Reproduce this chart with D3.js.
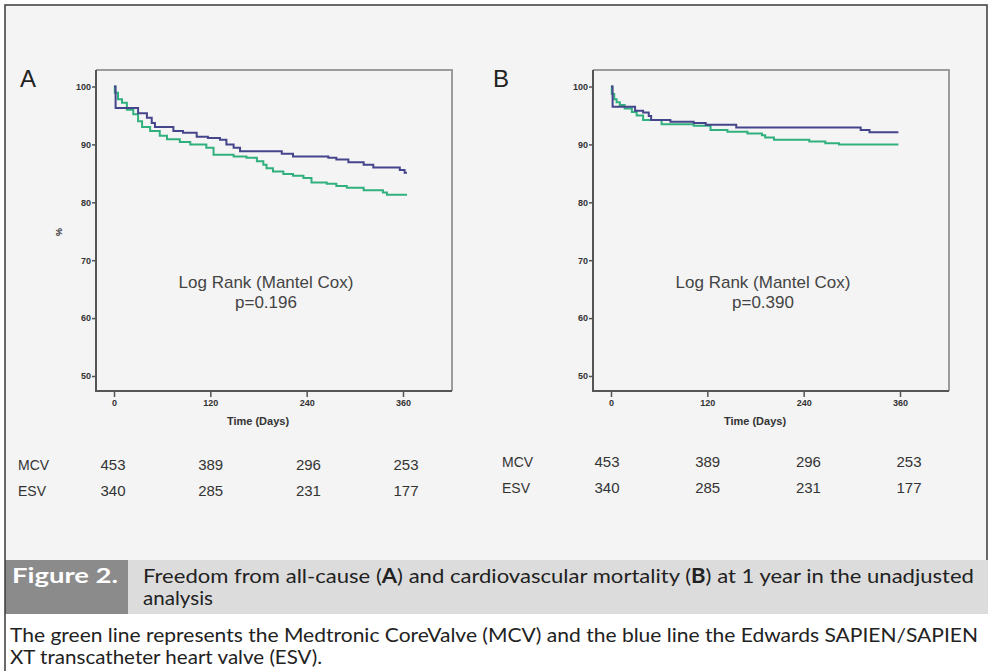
<!DOCTYPE html>
<html>
<head>
<meta charset="utf-8">
<script src="https://cdn.jsdelivr.net/npm/d3@7"></script>
<style>
  body { margin: 0; background: #fff; }
  svg { display: block; }
</style>
</head>
<body>
<div id="chart"></div>
<script>
// ---- data ----
// panel A: all-cause mortality (day the step starts, survival %)
var aMcvDays = [0, 1, 5, 10, 16, 24, 30, 35, 45, 57, 66, 82, 95, 115, 124, 149, 165, 178, 186, 190, 198, 211, 223, 236, 246, 265, 277, 290, 311, 335, 340, 365];
var aMcvSurv = [100, 98.9, 97.8, 97.2, 96.0, 95.2, 94.0, 93.0, 92.3, 91.5, 90.9, 90.4, 90.0, 89.4, 88.2, 87.9, 87.7, 87.1, 86.5, 85.9, 85.3, 84.9, 84.6, 84.2, 83.4, 83.2, 82.8, 82.5, 82.1, 81.7, 81.3, 81.3];
var aEsvDays = [0, 2, 30, 41, 47, 51, 74, 86, 103, 117, 132, 140, 149, 157, 209, 223, 267, 277, 292, 311, 323, 356, 362, 365];
var aEsvSurv = [100, 96.3, 95.4, 94.6, 93.7, 93.0, 92.3, 92.0, 91.3, 91.1, 90.8, 90.0, 89.4, 88.8, 88.4, 87.9, 87.7, 87.4, 86.9, 86.5, 86.0, 85.6, 85.1, 85.1];
// panel B: cardiovascular mortality
var bMcvDays = [0, 1, 4, 7, 11, 17, 26, 32, 40, 63, 103, 124, 145, 170, 188, 192, 203, 247, 267, 284, 358];
var bMcvSurv = [100, 98.7, 97.8, 97.3, 96.8, 96.2, 95.6, 95.0, 94.2, 93.5, 93.2, 92.5, 92.2, 91.9, 91.6, 91.2, 90.8, 90.5, 90.2, 90.0, 90.0];
var bEsvDays = [0, 2, 30, 40, 47, 50, 74, 103, 118, 156, 311, 322, 358];
var bEsvSurv = [100, 96.5, 95.8, 95.5, 94.9, 94.2, 93.9, 93.7, 93.4, 92.9, 92.5, 92.1, 92.1];

var xTicks = [0, 120, 240, 360];
var yTicks = [50, 60, 70, 80, 90, 100];

// numbers at risk
var riskGroups = ["MCV", "ESV"];
var riskMcv = [453, 389, 296, 253];
var riskEsv = [340, 285, 231, 177];

var pLabels = ["p=0.196", "p=0.390"];

// ---- layout ----
var W = 990, H = 671;
var svg = d3.select("#chart").append("svg").attr("width", W).attr("height", H);

svg.append("rect").attr("x", 5).attr("y", 5).attr("width", 982).attr("height", 560).attr("fill", "#f4f4f4");

var panels = [
  {name: "A", ox: 0, mcv: [aMcvDays, aMcvSurv], esv: [aEsvDays, aEsvSurv], p: pLabels[0],
   tableX: [113, 210.7, 308.4, 406], tableY: [470, 496], labelX: 18},
  {name: "B", ox: 497, mcv: [bMcvDays, bMcvSurv], esv: [bEsvDays, bEsvSurv], p: pLabels[1],
   tableX: [607, 707.7, 808.4, 909], tableY: [467, 493], labelX: 502}
];

var blue = "#45458c", green = "#30b07c";
var sans = "Liberation Sans, Arial, sans-serif";

panels.forEach(function(pn) {
  var g = svg.append("g").attr("transform", "translate(" + pn.ox + ",0)");
  var left = 96, right = 452, top = 70, bottom = 391;

  var x = d3.scaleLinear().domain([0, 360]).range([114, 403]);
  var y = d3.scaleLinear().domain([50, 100]).range([376, 86.5]);

  // box: light top/right, darker left/bottom
  g.append("path").attr("d", "M" + left + "," + top + "H" + right + "V" + bottom)
    .attr("fill", "none").attr("stroke", "#9c9c9c").attr("stroke-width", 2);
  g.append("path").attr("d", "M" + left + "," + top + "V" + bottom + "H" + right)
    .attr("fill", "none").attr("stroke", "#555").attr("stroke-width", 2);

  var yAxis = g.append("g").attr("transform", "translate(" + left + ",0)")
    .call(d3.axisLeft(y).tickValues(yTicks).tickSize(4).tickPadding(1));
  var xAxis = g.append("g").attr("transform", "translate(0," + bottom + ")")
    .call(d3.axisBottom(x).tickValues(xTicks).tickSize(6).tickPadding(3));
  [yAxis, xAxis].forEach(function(ax) {
    ax.select(".domain").remove();
    ax.selectAll("line").attr("stroke", "#555").attr("stroke-width", 1.5);
    ax.selectAll("text").attr("fill", "#333").style("font-family", sans)
      .style("font-size", "9px").style("font-weight", "bold");
  });

  g.append("text").attr("x", 258).attr("y", 425).attr("text-anchor", "middle")
    .style("font-family", sans).style("font-size", "11px")
    .style("font-weight", "bold").attr("fill", "#333").text("Time (Days)");
  if (pn.name === "A") {
    g.append("text").attr("transform", "translate(62,232) rotate(-90)").attr("text-anchor", "middle")
      .style("font-family", sans).style("font-size", "9px")
      .style("font-weight", "bold").attr("fill", "#333").text("%");
  }

  // panel letter
  g.append("text").attr("x", pn.name === "A" ? 20 : -4).attr("y", 87)
    .style("font-family", sans).style("font-size", "24px")
    .attr("fill", "#222").text(pn.name);

  var line = d3.line()
    .x(function(d) { return x(d[0]); })
    .y(function(d) { return y(d[1]); })
    .curve(d3.curveStepAfter);

  [[pn.mcv, green], [pn.esv, blue]].forEach(function(s) {
    var pts = s[0][0].map(function(dd, i) { return [dd, s[0][1][i]]; });
    g.append("path").datum(pts).attr("d", line).attr("fill", "none")
      .attr("stroke", s[1]).attr("stroke-width", 2);
  });

  // log rank
  g.append("text").attr("text-anchor", "middle").attr("fill", "#444")
    .style("font-family", sans).style("font-size", "17px")
    .attr("x", 266).attr("y", 288).text("Log Rank (Mantel Cox)");
  g.append("text").attr("text-anchor", "middle").attr("fill", "#444")
    .style("font-family", sans).style("font-size", "17px")
    .attr("x", 266).attr("y", 308).text(pn.p);

  // at risk table
  var tbl = svg.append("g");
  [riskMcv, riskEsv].forEach(function(row, r) {
    tbl.append("text").attr("x", pn.labelX).attr("y", pn.tableY[r]).attr("fill", "#333")
      .style("font-family", sans).style("font-size", "14px")
      .text(riskGroups[r]);
    row.forEach(function(v, i) {
      tbl.append("text").attr("x", pn.tableX[i]).attr("y", pn.tableY[r]).attr("text-anchor", "middle")
        .attr("fill", "#333").style("font-family", sans)
        .style("font-size", "15px").text(v);
    });
  });
});

// caption
svg.append("rect").attr("x", 5).attr("y", 560).attr("width", 983).attr("height", 54).attr("fill", "#dcdcdc");
svg.append("rect").attr("x", 5).attr("y", 560).attr("width", 123).attr("height", 54).attr("fill", "#8b8b8b");
svg.append("rect").attr("x", 5).attr("y", 614).attr("width", 983).attr("height", 57).attr("fill", "#fff");

var capFont = "Lato, Open Sans, sans-serif";
svg.append("text").attr("x", 12).attr("y", 583).attr("fill", "#fff")
  .style("font-family", capFont).style("font-size", "20px").style("font-weight", "bold")
  .attr("textLength", 106).attr("lengthAdjust", "spacingAndGlyphs").text("Figure 2.");

var c1 = svg.append("text").attr("x", 143).attr("y", 583).attr("fill", "#222")
  .style("font-family", capFont).style("font-size", "20px")
  .attr("textLength", 831).attr("lengthAdjust", "spacingAndGlyphs");
c1.append("tspan").text("Freedom from all-cause (");
c1.append("tspan").style("font-weight", "bold").text("A");
c1.append("tspan").text(") and cardiovascular mortality (");
c1.append("tspan").style("font-weight", "bold").text("B");
c1.append("tspan").text(") at 1 year in the unadjusted");

svg.append("text").attr("x", 143).attr("y", 605).attr("fill", "#222")
  .style("font-family", capFont).style("font-size", "20px")
  .attr("textLength", 70).attr("lengthAdjust", "spacingAndGlyphs").text("analysis");

svg.append("text").attr("x", 10).attr("y", 642).attr("fill", "#222")
  .style("font-family", capFont).style("font-size", "20px")
  .attr("textLength", 968).attr("lengthAdjust", "spacingAndGlyphs")
  .text("The green line represents the Medtronic CoreValve (MCV) and the blue line the Edwards SAPIEN/SAPIEN");
svg.append("text").attr("x", 10).attr("y", 664).attr("fill", "#222")
  .style("font-family", capFont).style("font-size", "20px")
  .attr("textLength", 312).attr("lengthAdjust", "spacingAndGlyphs")
  .text("XT transcatheter heart valve (ESV).");

// outer frame
svg.append("path").attr("d", "M5,671V5H987V560").attr("fill", "none").attr("stroke", "#3a3a3a").attr("stroke-width", 1.5);
</script>
</body>
</html>
